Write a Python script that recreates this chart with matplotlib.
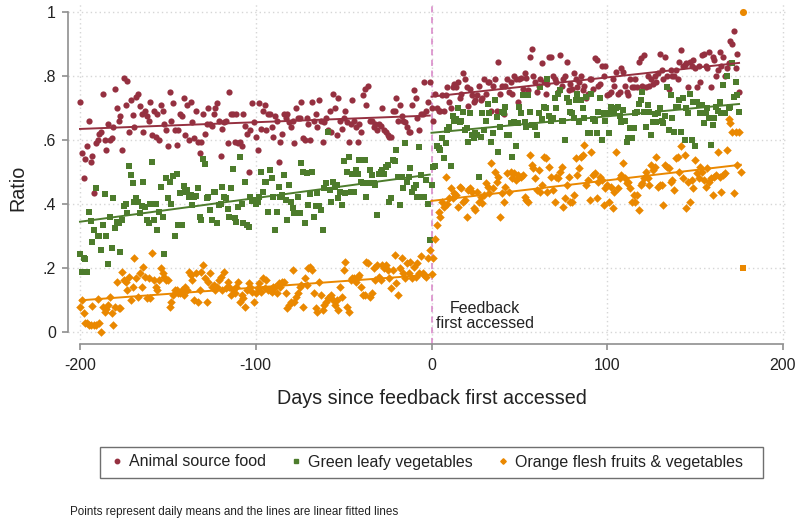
import numpy as np
import matplotlib
matplotlib.use("Agg")
import matplotlib.pyplot as plt
from matplotlib.lines import Line2D
from matplotlib.patches import Rectangle

plt.rcParams['font.family'] = ['Liberation Sans', 'DejaVu Sans']
plt.rcParams['axes.unicode_minus'] = False

# ---------------- data (daily means) ----------------
series_names = ["Animal source food", "Green leafy vegetables", "Orange flesh fruits & vegetables"]

# days -200 .. -1
animal_pre = [
    0.72, 0.56, 0.48, 0.54, 0.58, 0.66, 0.53, 0.55, 0.435, 0.59,
    0.60, 0.62, 0.625, 0.745, 0.60, 0.57, 0.65, 0.60, 0.605, 0.64,
    0.76, 0.70, 0.66, 0.675, 0.57, 0.795, 0.71, 0.785, 0.625, 0.725,
    0.678, 0.64, 0.735, 0.745, 0.705, 0.68, 0.625, 0.69, 0.675, 0.66,
    0.72, 0.615, 0.69, 0.61, 0.68, 0.60, 0.71, 0.69, 0.65, 0.63,
    0.58, 0.75, 0.66, 0.715, 0.63, 0.585, 0.63, 0.68, 0.675, 0.73,
    0.615, 0.71, 0.60, 0.72, 0.655, 0.605, 0.69, 0.595, 0.56, 0.595,
    0.68, 0.62, 0.65, 0.70, 0.65, 0.645, 0.68, 0.70, 0.715, 0.66,
    0.55, 0.635, 0.655, 0.66, 0.59, 0.75, 0.68, 0.68, 0.595, 0.68,
    0.59, 0.595, 0.58, 0.68, 0.645, 0.62, 0.50, 0.63, 0.717, 0.655,
    0.61, 0.57, 0.715, 0.635, 0.69, 0.71, 0.63, 0.68, 0.68, 0.64,
    0.61, 0.675, 0.66, 0.53, 0.595, 0.62, 0.68, 0.67, 0.68, 0.655,
    0.64, 0.66, 0.59, 0.70, 0.67, 0.67, 0.72, 0.605, 0.60, 0.67,
    0.65, 0.60, 0.72, 0.66, 0.68, 0.64, 0.725, 0.66, 0.595, 0.655,
    0.67, 0.63, 0.69, 0.625, 0.745, 0.70, 0.615, 0.73, 0.66, 0.635,
    0.67, 0.69, 0.655, 0.595, 0.65, 0.725, 0.66, 0.64, 0.595, 0.65,
    0.625, 0.74, 0.76, 0.71, 0.77, 0.66, 0.66, 0.64, 0.65, 0.63,
    0.65, 0.645, 0.70, 0.63, 0.625, 0.615, 0.61, 0.61, 0.69, 0.69,
    0.73, 0.66, 0.71, 0.675, 0.66, 0.655, 0.64, 0.625, 0.625, 0.71,
    0.755, 0.73, 0.67, 0.63, 0.68, 0.68, 0.78, 0.69, 0.72, 0.78,
]
# days 0 .. 175
animal_post = [
    0.70, 0.66, 0.745, 0.70, 0.69, 0.69, 0.74, 0.69, 0.74, 0.765,
    0.72, 0.70, 0.765, 0.775, 0.765, 0.78, 0.73, 0.745, 0.81, 0.79,
    0.765, 0.705, 0.76, 0.74, 0.72, 0.725, 0.74, 0.77, 0.725, 0.73,
    0.79, 0.745, 0.78, 0.78, 0.69, 0.77, 0.79, 0.69, 0.845, 0.745,
    0.77, 0.68, 0.77, 0.79, 0.75, 0.78, 0.745, 0.80, 0.79, 0.72,
    0.79, 0.795, 0.76, 0.81, 0.795, 0.755, 0.86, 0.885, 0.80, 0.78,
    0.75, 0.77, 0.79, 0.84, 0.78, 0.745, 0.775, 0.86, 0.86, 0.80,
    0.79, 0.78, 0.75, 0.865, 0.77, 0.79, 0.80, 0.845, 0.755, 0.775,
    0.76, 0.81, 0.79, 0.765, 0.78, 0.80, 0.755, 0.77, 0.73, 0.745,
    0.79, 0.79, 0.76, 0.855, 0.85, 0.77, 0.775, 0.83, 0.80, 0.83,
    0.74, 0.745, 0.75, 0.79, 0.77, 0.814, 0.745, 0.75, 0.825, 0.814,
    0.77, 0.75, 0.74, 0.79, 0.765, 0.765, 0.79, 0.765, 0.845, 0.855,
    0.77, 0.865, 0.765, 0.80, 0.77, 0.79, 0.775, 0.80, 0.78, 0.81,
    0.87, 0.82, 0.79, 0.86, 0.80, 0.76, 0.82, 0.80, 0.80, 0.82,
    0.79, 0.845, 0.88, 0.83, 0.835, 0.84, 0.765, 0.845, 0.83, 0.85,
    0.825, 0.765, 0.83, 0.78, 0.865, 0.87, 0.83, 0.825, 0.875, 0.765,
    0.86, 0.85, 0.80, 0.82, 0.875, 0.83, 0.86, 0.80, 0.825, 0.84,
    0.91, 0.90, 0.94, 0.825, 0.87, 0.75,
]

green_pre = [
    0.243, 0.187, 0.232, 0.227, 0.187, 0.376, 0.348, 0.282, 0.318, 0.45,
    0.30, 0.30, 0.256, 0.334, 0.431, 0.30, 0.212, 0.358, 0.264, 0.42,
    0.324, 0.345, 0.34, 0.249, 0.35, 0.395, 0.40, 0.373, 0.52, 0.49,
    0.465, 0.405, 0.418, 0.407, 0.371, 0.395, 0.47, 0.392, 0.35, 0.34,
    0.40, 0.53, 0.35, 0.40, 0.318, 0.376, 0.454, 0.36, 0.243, 0.48,
    0.42, 0.47, 0.40, 0.486, 0.30, 0.493, 0.334, 0.435, 0.334, 0.456,
    0.439, 0.443, 0.423, 0.428, 0.397, 0.423, 0.425, 0.449, 0.36, 0.35,
    0.54, 0.525, 0.418, 0.423, 0.38, 0.35, 0.439, 0.439, 0.342, 0.397,
    0.40, 0.454, 0.423, 0.42, 0.383, 0.36, 0.45, 0.508, 0.355, 0.345,
    0.392, 0.548, 0.40, 0.34, 0.47, 0.334, 0.329, 0.423, 0.41, 0.413,
    0.40, 0.407, 0.423, 0.50, 0.439, 0.47, 0.47, 0.376, 0.506, 0.48,
    0.423, 0.32, 0.376, 0.454, 0.423, 0.428, 0.49, 0.413, 0.35, 0.46,
    0.407, 0.386, 0.371, 0.371, 0.423, 0.371, 0.527, 0.50, 0.34, 0.498,
    0.397, 0.43, 0.50, 0.36, 0.395, 0.435, 0.395, 0.38, 0.318, 0.449,
    0.465, 0.626, 0.443, 0.407, 0.47, 0.454, 0.46, 0.418, 0.439, 0.397,
    0.533, 0.435, 0.50, 0.548, 0.439, 0.495, 0.439, 0.506, 0.495, 0.538,
    0.47, 0.465, 0.538, 0.423, 0.465, 0.506, 0.49, 0.465, 0.46, 0.366,
    0.495, 0.50, 0.506, 0.495, 0.517, 0.522, 0.407, 0.42, 0.538, 0.533,
    0.569, 0.485, 0.397, 0.485, 0.45, 0.59, 0.47, 0.485, 0.512, 0.439,
    0.449, 0.46, 0.423, 0.579, 0.49, 0.423, 0.423, 0.475, 0.40, 0.2875,
]
green_post = [
    0.46, 0.516, 0.52, 0.58, 0.574, 0.569, 0.605, 0.543, 0.59, 0.63,
    0.64, 0.52, 0.676, 0.66, 0.665, 0.699, 0.657, 0.66, 0.689, 0.631,
    0.636, 0.595, 0.683, 0.616, 0.605, 0.621, 0.616, 0.485, 0.61, 0.683,
    0.631, 0.66, 0.714, 0.683, 0.595, 0.621, 0.725, 0.673, 0.564, 0.64,
    0.689, 0.683, 0.704, 0.616, 0.616, 0.652, 0.548, 0.657, 0.58, 0.652,
    0.704, 0.683, 0.74, 0.657, 0.64, 0.74, 0.689, 0.647, 0.647, 0.64,
    0.616, 0.683, 0.766, 0.665, 0.704, 0.699, 0.792, 0.676, 0.66, 0.67,
    0.73, 0.699, 0.745, 0.756, 0.66, 0.66, 0.60, 0.73, 0.72, 0.689,
    0.683, 0.67, 0.725, 0.745, 0.657, 0.725, 0.699, 0.67, 0.735, 0.621,
    0.621, 0.745, 0.665, 0.66, 0.621, 0.689, 0.73, 0.60, 0.683, 0.66,
    0.683, 0.621, 0.704, 0.689, 0.689, 0.699, 0.704, 0.676, 0.657, 0.694,
    0.66, 0.595, 0.605, 0.636, 0.605, 0.636, 0.683, 0.689, 0.714, 0.725,
    0.751, 0.689, 0.64, 0.709, 0.689, 0.616, 0.657, 0.68, 0.657, 0.683,
    0.699, 0.66, 0.652, 0.676, 0.766, 0.631, 0.74, 0.67, 0.626, 0.704,
    0.704, 0.725, 0.626, 0.73, 0.60, 0.699, 0.683, 0.745, 0.60, 0.72,
    0.58, 0.72, 0.709, 0.683, 0.709, 0.652, 0.683, 0.699, 0.67, 0.584,
    0.647, 0.67, 0.704, 0.69, 0.72, 0.683, 0.771, 0.683, 0.80, 0.699,
    0.704, 0.84, 0.735, 0.78, 0.74, 0.689,
]

orange_pre = [
    0.079, 0.10, 0.058, 0.027, 0.027, 0.022, 0.022, 0.082, 0.022, 0.022,
    0.102, 0.027, 0.0, 0.079, 0.063, 0.071, 0.084, 0.11, 0.058, 0.022,
    0.079, 0.157, 0.074, 0.074, 0.187, 0.163, 0.157, 0.131, 0.173, 0.10,
    0.142, 0.23, 0.168, 0.11, 0.183, 0.142, 0.204, 0.173, 0.105, 0.168,
    0.105, 0.246, 0.163, 0.142, 0.131, 0.163, 0.199, 0.183, 0.173, 0.163,
    0.163, 0.079, 0.095, 0.116, 0.131, 0.131, 0.121, 0.121, 0.131, 0.116,
    0.142, 0.131, 0.188, 0.178, 0.163, 0.10, 0.183, 0.095, 0.131, 0.188,
    0.209, 0.168, 0.095, 0.157, 0.183, 0.142, 0.147, 0.131, 0.142, 0.163,
    0.173, 0.131, 0.188, 0.137, 0.157, 0.142, 0.116, 0.131, 0.121, 0.142,
    0.157, 0.095, 0.116, 0.105, 0.079, 0.131, 0.152, 0.142, 0.126, 0.095,
    0.121, 0.137, 0.152, 0.126, 0.168, 0.137, 0.163, 0.131, 0.131, 0.126,
    0.142, 0.142, 0.121, 0.152, 0.142, 0.157, 0.157, 0.121, 0.074, 0.084,
    0.095, 0.194, 0.095, 0.11, 0.121, 0.142, 0.147, 0.079, 0.168, 0.147,
    0.199, 0.204, 0.194, 0.121, 0.074, 0.063, 0.157, 0.116, 0.069, 0.084,
    0.095, 0.105, 0.11, 0.116, 0.10, 0.084, 0.10, 0.069, 0.142, 0.11,
    0.194, 0.22, 0.079, 0.063, 0.163, 0.168, 0.168, 0.157, 0.173, 0.178,
    0.142, 0.116, 0.116, 0.22, 0.215, 0.11, 0.121, 0.199, 0.163, 0.209,
    0.173, 0.163, 0.209, 0.199, 0.209, 0.194, 0.168, 0.137, 0.194, 0.241,
    0.152, 0.116, 0.199, 0.23, 0.183, 0.168, 0.215, 0.183, 0.22, 0.168,
    0.204, 0.173, 0.215, 0.183, 0.238, 0.183, 0.178, 0.173, 0.23, 0.256,
]
orange_post = [
    0.18, 0.23, 0.29, 0.334, 0.376, 0.36, 0.407, 0.39, 0.485, 0.40,
    0.42, 0.449, 0.418, 0.434, 0.428, 0.392, 0.454, 0.449, 0.407, 0.412,
    0.36, 0.444, 0.449, 0.439, 0.386, 0.38, 0.439, 0.407, 0.423, 0.402,
    0.428, 0.465, 0.454, 0.434, 0.527, 0.449, 0.501, 0.47, 0.485, 0.36,
    0.434, 0.407, 0.454, 0.496, 0.439, 0.501, 0.48, 0.496, 0.475, 0.49,
    0.485, 0.485, 0.49, 0.423, 0.412, 0.407, 0.553, 0.522, 0.511, 0.48,
    0.444, 0.506, 0.439, 0.459, 0.548, 0.543, 0.439, 0.517, 0.485, 0.444,
    0.407, 0.485, 0.48, 0.501, 0.517, 0.392, 0.418, 0.459, 0.485, 0.407,
    0.407, 0.428, 0.543, 0.49, 0.511, 0.548, 0.553, 0.584, 0.459, 0.475,
    0.412, 0.564, 0.49, 0.496, 0.418, 0.47, 0.485, 0.475, 0.397, 0.449,
    0.459, 0.407, 0.454, 0.386, 0.439, 0.564, 0.449, 0.48, 0.49, 0.527,
    0.48, 0.465, 0.47, 0.449, 0.407, 0.428, 0.407, 0.428, 0.38, 0.459,
    0.465, 0.48, 0.501, 0.48, 0.459, 0.522, 0.506, 0.517, 0.548, 0.454,
    0.459, 0.459, 0.397, 0.522, 0.517, 0.511, 0.47, 0.475, 0.444, 0.543,
    0.548, 0.501, 0.58, 0.48, 0.553, 0.386, 0.47, 0.407, 0.475, 0.449,
    0.538, 0.496, 0.48, 0.517, 0.501, 0.475, 0.454, 0.511, 0.47, 0.48,
    0.428, 0.485, 0.49, 0.564, 0.485, 0.439, 0.49, 0.496, 0.569, 0.665,
    0.652, 0.626, 0.434, 0.626, 0.522, 0.626, 0.501,
]

# two isolated points on the last day
last_day = 177
last_day_high = 1.0
last_day_low = 0.2

x_ticks = [-200, -100, 0, 100, 200]
x_ticklabels = ["-200", "-100", "0", "100", "200"]
y_ticks = [0, 0.2, 0.4, 0.6, 0.8, 1.0]
y_ticklabels = ["0", ".2", ".4", ".6", ".8", "1"]

# ---------------- style ----------------
RED = "#953040"
GREEN = "#4d7c2c"
ORANGE = "#ea8800"
AXC = "#8f8f8f"
TXT = "#222222"

W, H = 798, 522
fig = plt.figure(figsize=(W / 100, H / 100), dpi=100)
ax = fig.add_axes([68 / W, (H - 344) / H, (786 - 68) / W, (344 - 2) / H])
ppd = 703 / 400.0  # pixels per day
ax.set_xlim(-200 - 12 / ppd, 200 + 3 / ppd)
ax.set_ylim(-12 / 320, 1 + 10 / 320)

ax.grid(True, color="#d6d6d6", linestyle=(0, (1, 2.2)), linewidth=1.0)
ax.set_axisbelow(True)

for s in ["top", "right"]:
    ax.spines[s].set_visible(False)
ax.spines["left"].set_bounds(0, 1)
ax.spines["bottom"].set_bounds(-200, 200)
for s in ["left", "bottom"]:
    ax.spines[s].set_color(AXC)
    ax.spines[s].set_linewidth(1.2)

ax.set_xticks(x_ticks)
ax.set_xticklabels(x_ticklabels)
ax.set_yticks(y_ticks)
ax.set_yticklabels(y_ticklabels)
ax.tick_params(direction="out", length=4.3, width=1.2, color=AXC,
               labelsize=11.5, labelcolor=TXT, pad=4.5)
ax.tick_params(axis="x", pad=6)

# feedback line
ax.axvline(0, color="#d783c6", linestyle=(0, (4, 3)), linewidth=1.1, zorder=1)

specs = [
    (animal_pre, animal_post, RED, "o", 20),
    (green_pre, green_post, GREEN, "s", 22),
    (orange_pre, orange_post, ORANGE, "D", 19),
]
for pre, post, col, mk, sz in specs:
    pre = np.asarray(pre, float)
    post = np.asarray(post, float)
    d_pre = np.arange(-len(pre), 0)
    d_post = np.arange(0, len(post))
    ax.scatter(d_pre, pre, s=sz, marker=mk, color=col, linewidths=0, zorder=3)
    ax.scatter(d_post, post, s=sz, marker=mk, color=col, linewidths=0, zorder=3)
    for d, v in ((d_pre, pre), (d_post, post)):
        b, a = np.polyfit(d, v, 1)
        xs = np.array([d.min(), d.max()])
        ax.plot(xs, a + b * xs, color=col, linewidth=1.4, zorder=4)

ax.scatter([last_day], [last_day_high], s=26, marker="o", color=ORANGE, linewidths=0, zorder=3, clip_on=False)
ax.scatter([last_day], [last_day_low], s=24, marker="s", color=ORANGE, linewidths=0, zorder=3, clip_on=False)

ax.text(30.5, 0.05, "Feedback\nfirst accessed", ha="center", va="center",
        fontsize=11.5, color=TXT, linespacing=1.0)

fig.text(432 / W, 1 - 398 / H, "Days since feedback first accessed",
         ha="center", va="center", fontsize=14.2, color=TXT)
fig.text(18 / W, 1 - 188 / H, "Ratio", ha="center", va="center",
         rotation=90, fontsize=14.2, color=TXT)

# legend (frame drawn as a figure rectangle)
fig.patches.append(Rectangle((100 / W, (H - 478) / H), 663 / W, 31 / H,
                             transform=fig.transFigure, fill=False,
                             edgecolor="#6f6f6f", linewidth=1.0))
handles = [
    Line2D([], [], marker="o", linestyle="", color=RED, markersize=3.2),
    Line2D([], [], marker="s", linestyle="", color=GREEN, markersize=3.0),
    Line2D([], [], marker="D", linestyle="", color=ORANGE, markersize=2.8),
]
leg = fig.legend(handles, series_names, loc="center left", ncol=3,
                 bbox_to_anchor=(112 / W, (H - 462) / H),
                 frameon=False, fontsize=11.5, handlelength=0.6,
                 handletextpad=0.45, columnspacing=1.6,
                 borderaxespad=0, borderpad=0, labelcolor=TXT)

fig.text(70 / W, 1 - 512 / H,
         "Points represent daily means and the lines are linear fitted lines",
         ha="left", va="center", fontsize=8.4, color=TXT)

fig.savefig("out.png", dpi=100)
